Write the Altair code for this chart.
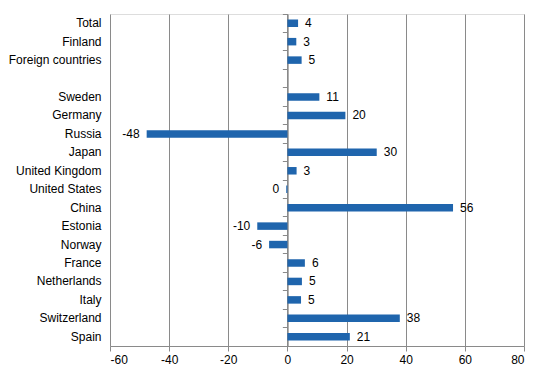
import altair as alt
import pandas as pd

domain_rows = ["Total", "Finland", "Foreign countries", " ", "Sweden", "Germany", "Russia",
               "Japan", "United Kingdom", "United States", "China", "Estonia", "Norway",
               "France", "Netherlands", "Italy", "Switzerland", "Spain"]
categories = ["Total", "Finland", "Foreign countries", "Sweden", "Germany", "Russia",
              "Japan", "United Kingdom", "United States", "China", "Estonia", "Norway",
              "France", "Netherlands", "Italy", "Switzerland", "Spain"]
values = [3.6, 3.0, 4.8, 10.8, 19.6, -47.6, 30.2, 3.1, -0.4, 56.0, -10.2, -6.2,
          5.9, 4.9, 4.6, 38.0, 21.1]
labels = ["4", "3", "5", "11", "20", "-48", "30", "3", "0", "56", "-10", "-6",
          "6", "5", "5", "38", "21"]
x_ticks = [-60, -40, -20, 0, 20, 40, 60, 80]

df = pd.DataFrame({"cat": categories, "val": values, "lab": labels})

W, H = 414, 332
FONT = "Liberation Sans"
GRAY = "#8a8a8a"
BLUE = "#1f65ad"

xscale = alt.Scale(domain=[-60, 80], nice=False, zero=False)
yscale = alt.Scale(domain=domain_rows, paddingInner=0, paddingOuter=0)

x_axis = alt.Axis(values=x_ticks, grid=True, gridColor=GRAY, gridWidth=1,
                  domainColor=GRAY, tickColor=GRAY, tickSize=5, title=None,
                  labelFont=FONT, labelFontSize=12, labelColor="#000000", labelPadding=3,
                  labelExpr="datum.value < 0 ? '-' + abs(datum.value) : '' + datum.value")

bars = alt.Chart(df).mark_bar(color=BLUE, size=7.5).encode(
    x=alt.X("val:Q", scale=xscale, axis=x_axis),
    y=alt.Y("cat:N", scale=yscale, sort=domain_rows,
            axis=alt.Axis(orient="left", title=None, domain=False, ticks=False, tickSize=0,
                          labelFont=FONT, labelFontSize=12, labelColor="#000000",
                          labelPadding=9, grid=False)),
)

pos_text = alt.Chart(df).transform_filter("datum.val >= 0").mark_text(
    align="left", baseline="middle", dx=7, font=FONT, fontSize=12, color="#000000"
).encode(
    x=alt.X("val:Q", scale=xscale, axis=x_axis),
    y=alt.Y("cat:N", scale=yscale, sort=domain_rows,
            axis=alt.Axis(orient="left", title=None, labels=False, grid=False,
                          domain=True, domainColor=GRAY, ticks=True, tickColor=GRAY,
                          tickSize=5, bandPosition=0, offset=-W * 60 / 140)),
    text="lab:N",
)

neg_text = alt.Chart(df).transform_filter("datum.val < 0").mark_text(
    align="right", baseline="middle", dx=-7, font=FONT, fontSize=12, color="#000000"
).encode(
    x=alt.X("val:Q", scale=xscale, axis=x_axis),
    y=alt.Y("cat:N", scale=yscale, sort=domain_rows,
            axis=alt.Axis(orient="left", title=None, labels=False, grid=False,
                          domain=True, domainColor=GRAY, ticks=True, tickColor=GRAY,
                          tickSize=5, bandPosition=0, offset=-W * 60 / 140)),
    text="lab:N",
)

chart = alt.layer(bars, pos_text, neg_text).resolve_axis(y="independent").properties(
    width=W, height=H,
    padding={"left": 0, "top": 5, "right": 5, "bottom": 5},
).configure_view(strokeWidth=0).configure(background="white")

chart.save("out.html", embed_options={"renderer": "svg", "actions": False})
